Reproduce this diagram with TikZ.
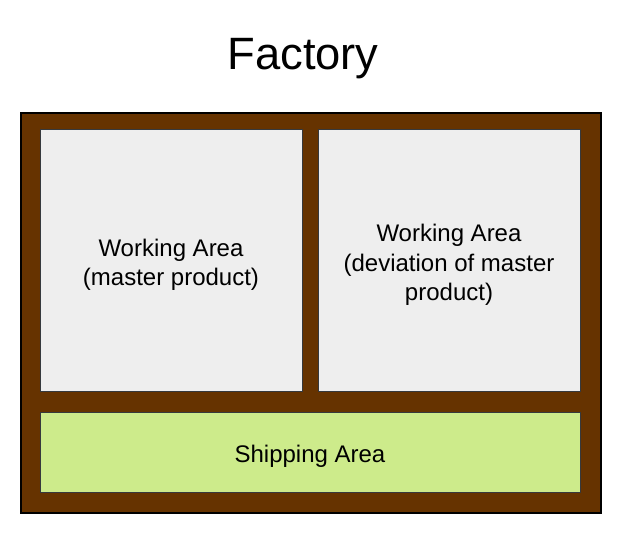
\documentclass[tikz,border=0pt]{standalone}
\usepackage{fontspec}
\setmainfont{Liberation Sans}
\definecolor{wall}{HTML}{663300}
\definecolor{area}{HTML}{EEEEEE}
\definecolor{ship}{HTML}{CDEB8B}
\definecolor{edge}{HTML}{36393D}
\tikzset{
  room/.style={draw=edge,line width=0.75pt},
  roomtext/.style={align=center,yshift=-3pt,font=\fontsize{18}{22}\selectfont},
}
\begin{document}
\begin{tikzpicture}[x=0.75pt,y=-0.75pt]
    \useasboundingbox (0,0) rectangle (626,548);
    \node[font=\fontsize{34}{40}\selectfont] (title) at (303,59) {Factory};
    \draw[fill=wall,line width=1.5pt] (21,113) rectangle (601,513);
    % rooms
    \node[room,fill=area,minimum width=196.5pt,minimum height=196.5pt] (master) at (171,261) {};
    \node[room,fill=area,minimum width=196.5pt,minimum height=196.5pt] (deviation) at (449,261) {};
    \node[room,fill=ship,minimum width=405pt,minimum height=60pt] (shipping) at (310,452.5) {};
    % labels
    \node[roomtext] (master-text) at (master.center) {Working Area\\(master product)};
    \node[roomtext] (deviation-text) at (deviation.center) {Working Area\\(deviation of master\\product)};
    \node[roomtext] (shipping-text) at (shipping.center) {Shipping Area};
\end{tikzpicture}
\end{document}
